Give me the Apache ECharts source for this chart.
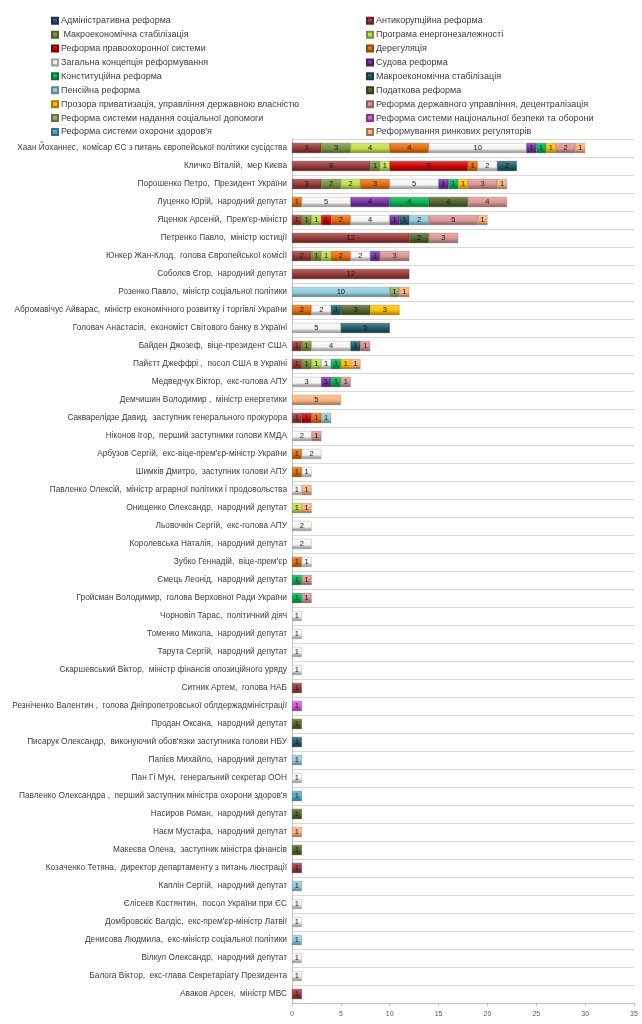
<!DOCTYPE html>
<html>
<head>
<meta charset="utf-8">
<script src="https://cdn.jsdelivr.net/npm/echarts@6/dist/echarts.min.js"></script>
<style>
html,body{margin:0;padding:0;background:#fff;}
#c{width:642px;height:1024px;}
</style>
</head>
<body>
<div id="c"></div>
<script>
const categories = [
"Хаан Йоханнес,  комісар ЄС з питань європейської політики сусідства",
"Кличко Віталій,  мер Києва",
"Порошенко Петро,  Президент України",
"Луценко Юрій,  народний депутат",
"Яценюк Арсеній,  Прем'єр-міністр",
"Петренко Павло,  міністр юстиції",
"Юнкер Жан-Клод,  голова Європейської комісії",
"Соболєв Єгор,  народний депутат",
"Розенко Павло,  міністр соціальної політики",
"Абромавічус Айварас,  міністр економічного розвитку і торгівлі України",
"Головач Анастасія,  економіст Світового банку в Україні",
"Байден Джозеф,  віце-президент США",
"Пайєтт Джеффрі ,  посол США в Україні",
"Медведчук Віктор,  екс-голова АПУ",
"Демчишин Володимир ,  міністр енергетики",
"Сакварелідзе Давид,  заступник генерального прокурора",
"Ніконов Ігор,  перший заступники голови КМДА",
"Арбузов Сергій,  екс-віце-прем'єр-міністр України",
"Шимків Дмитро,  заступник голови АПУ",
"Павленко Олексій,  міністр аграрної політики і продовольства",
"Онищенко Олександр,  народний депутат",
"Льовочкін Сергій,  екс-голова АПУ",
"Королевська Наталія,  народний депутат",
"Зубко Геннадій,  віце-прем'єр",
"Ємець Леонід,  народний депутат",
"Гройсман Володимир,  голова Верховної Ради України",
"Чорновіл Тарас,  політичний діяч",
"Томенко Микола,  народний депутат",
"Тарута Сергій,  народний депутат",
"Скаршевський Віктор,  міністр фінансів опозиційного уряду",
"Ситник Артем,  голова НАБ",
"Резніченко Валентин ,  голова Дніпропетровської облдержадміністрації",
"Продан Оксана,  народний депутат",
"Писарук Олександр,  виконуючий обов'язки заступника голови НБУ",
"Папієв Михайло,  народний депутат",
"Пан Гі Мун,  генеральний секретар ООН",
"Павленко Олександра ,  перший заступник міністра охорони здоров'я",
"Насиров Роман,  народний депутат",
"Наєм Мустафа,  народний депутат",
"Макеєва Олена,  заступник міністра фінансів",
"Козаченко Тетяна,  директор департаменту з питань люстрації",
"Каплін Сергій,  народний депутат",
"Єлісеєв Костянтин,  посол України при ЄС",
"Домбровскіс Валдіс,  екс-прем'єр-міністр Латвії",
"Денисова Людмила,  екс-міністр соціальної політики",
"Вілкул Олександр,  народний депутат",
"Балога Віктор,  екс-глава Секретаріату Президента",
"Аваков Арсен,  міністр МВС"
];

const seriesNames = [
"Адміністративна реформа",
"Антикорупційна реформа",
" Макроекономічна стабілізація",
"Програма енергонезалежності",
"Реформа правоохоронної системи",
"Дерегуляція",
"Загальна концепція реформування",
"Судова реформа",
"Конституційна реформа",
"Макроекономічна стабілізація",
"Пенсійна реформа",
"Податкова реформа",
"Прозора приватизація, управління державною власністю",
"Реформа державного управління, децентралізація",
"Реформа системи надання соціальної допомоги",
"Реформа системи національної безпеки та оборони",
"Реформа системи охорони здоров'я",
"Реформування ринкових регуляторів"
];

const vAdmin      = [0,0,0,0,0,0,0,0,0,0, 0,0,0,0,0,0,0,0,0,0, 0,0,0,0,0,0,0,0,0,0, 0,0,0,0,0,0,0,0,0,0, 0,0,0,0,0,0,0,0];
const vAntikor    = [3,8,3,0,1,12,2,12,0,0, 0,1,1,0,0,1,0,0,0,0, 0,0,0,0,0,0,0,0,0,0, 1,0,0,0,0,0,0,0,0,0, 1,0,0,0,0,0,0,1];
const vMacroOlive = [3,1,2,0,1,0,1,0,0,0, 0,1,1,0,0,0,0,0,0,0, 0,0,0,0,0,0,0,0,0,0, 0,0,0,0,0,0,0,0,0,0, 0,0,0,0,0,0,0,0];
const vEnergy     = [4,1,2,0,1,0,1,0,0,0, 0,0,1,0,0,0,0,0,0,0, 1,0,0,0,0,0,0,0,0,0, 0,0,0,0,0,0,0,0,0,0, 0,0,0,0,0,0,0,0];
const vLaw        = [0,8,0,0,1,0,0,0,0,0, 0,0,0,0,0,1,0,0,0,0, 0,0,0,0,0,0,0,0,0,0, 0,0,0,0,0,0,0,0,0,0, 0,0,0,0,0,0,0,0];
const vDereg      = [4,1,3,1,2,0,2,0,0,2, 0,0,0,0,0,1,0,1,1,0, 0,0,0,1,0,0,0,0,0,0, 0,0,0,0,0,0,0,0,0,0, 0,0,0,0,0,0,0,0];
const vGeneral    = [10,2,5,5,4,0,2,0,0,2, 5,4,1,3,0,0,2,2,1,1, 0,2,2,1,0,0,1,1,1,1, 0,0,0,0,0,1,0,0,0,0, 0,0,1,1,0,1,1,0];
const vJudicial   = [1,0,1,4,1,0,1,0,0,0, 0,0,0,1,0,0,0,0,0,0, 0,0,0,0,0,0,0,0,0,0, 0,0,0,0,0,0,0,0,0,0, 0,0,0,0,0,0,0,0];
const vConstit    = [1,0,1,4,0,0,0,0,0,0, 0,0,1,1,0,0,0,0,0,0, 0,0,0,0,1,1,0,0,0,0, 0,0,0,0,0,0,0,0,0,0, 0,0,0,0,0,0,0,0];
const vMacroTeal  = [0,2,0,0,1,0,0,0,0,1, 5,1,0,0,0,0,0,0,0,0, 0,0,0,0,0,0,0,0,0,0, 0,0,0,1,0,0,0,0,0,0, 0,0,0,0,0,0,0,0];
const vPension    = [0,0,0,0,2,0,0,0,10,0, 0,0,0,0,0,1,0,0,0,0, 0,0,0,0,0,0,0,0,0,0, 0,0,0,0,1,0,0,0,0,0, 0,1,0,0,1,0,0,0];
const vTax        = [0,0,0,4,0,2,0,0,0,3, 0,0,0,0,0,0,0,0,0,0, 0,0,0,0,0,0,0,0,0,0, 0,0,1,0,0,0,0,1,0,1, 0,0,0,0,0,0,0,0];
const vPrivat     = [1,0,1,0,0,0,0,0,0,3, 0,0,1,0,0,0,0,0,0,0, 0,0,0,0,0,0,0,0,0,0, 0,0,0,0,0,0,0,0,0,0, 0,0,0,0,0,0,0,0];
const vStateAdmin = [2,0,3,4,5,3,3,0,0,0, 0,1,0,1,0,0,1,0,0,0, 0,0,0,0,1,1,0,0,0,0, 0,0,0,0,0,0,0,0,0,0, 0,0,0,0,0,0,0,0];
const vSocial     = [0,0,0,0,0,0,0,0,1,0, 0,0,0,0,0,0,0,0,0,0, 0,0,0,0,0,0,0,0,0,0, 0,0,0,0,0,0,0,0,0,0, 0,0,0,0,0,0,0,0];
const vSecurity   = [0,0,0,0,0,0,0,0,0,0, 0,0,0,0,0,0,0,0,0,0, 0,0,0,0,0,0,0,0,0,0, 0,1,0,0,0,0,0,0,0,0, 0,0,0,0,0,0,0,0];
const vHealth     = [0,0,0,0,0,0,0,0,0,0, 0,0,0,0,0,0,0,0,0,0, 0,0,0,0,0,0,0,0,0,0, 0,0,0,0,0,0,1,0,0,0, 0,0,0,0,0,0,0,0];
const vMarket     = [1,0,1,0,1,0,0,0,1,0, 0,0,1,0,5,0,0,0,0,1, 1,0,0,0,0,0,0,0,0,0, 0,0,0,0,0,0,0,0,1,0, 0,0,0,0,0,0,0,0];

const seriesValues = [vAdmin, vAntikor, vMacroOlive, vEnergy, vLaw, vDereg, vGeneral, vJudicial, vConstit,
  vMacroTeal, vPension, vTax, vPrivat, vStateAdmin, vSocial, vSecurity, vHealth, vMarket];

const xTicks = { min: 0, max: 35, interval: 5 };

const colors = ["#2C4D75","#953735","#77933C","#C3DE4E","#CC0000","#E46C0A","#F4F4F0","#7030A0","#00B050",
  "#215968","#93CDDD","#4F6228","#FFC000","#D99694","#98A86E","#DA4FDA","#4BACC6","#F8B380"];

function shade(hex, f) {
  let r = parseInt(hex.slice(1,3),16), g = parseInt(hex.slice(3,5),16), b = parseInt(hex.slice(5,7),16);
  if (f >= 0) { r += (255-r)*f; g += (255-g)*f; b += (255-b)*f; }
  else { r *= 1+f; g *= 1+f; b *= 1+f; }
  return 'rgb(' + Math.round(r) + ',' + Math.round(g) + ',' + Math.round(b) + ')';
}
function fillFor(i) {
  const c = colors[i];
  if (i === 6) {
    return new echarts.graphic.LinearGradient(0,0,0,1,[
      {offset:0,color:'#FFFFFF'},{offset:0.6,color:'#F2F2EE'},{offset:0.75,color:'#BFBFBF'},{offset:1,color:'#8C8C8C'}]);
  }
  return new echarts.graphic.LinearGradient(0,0,0,1,[
    {offset:0,color:shade(c,0.25)},{offset:0.55,color:c},{offset:0.8,color:shade(c,-0.2)},{offset:1,color:shade(c,-0.45)}]);
}

const series = seriesNames.map((name, i) => ({
  name: name,
  type: 'bar',
  stack: 'total',
  barWidth: 10,
  data: seriesValues[i].map(v => v === 0 ? null : v),
  itemStyle: { color: fillFor(i), borderColor: shade(colors[i], -0.35), borderWidth: 0.4 },
  label: { show: true, position: 'inside', fontSize: 7.5, color: '#1a1a1a', fontFamily: 'Liberation Sans' },
  emphasis: { disabled: true }
}));

const leftNames = [0,2,4,6,8,10,12,14,16].map(i => seriesNames[i]);
const rightNames = [1,3,5,7,9,11,13,15,17].map(i => seriesNames[i]);

const legendCommon = {
  orient: 'vertical',
  top: 10,
  icon: 'rect',
  itemWidth: 6,
  itemHeight: 6,
  itemGap: 2.4,
  selectedMode: false,
  textStyle: { fontSize: 9, color: '#404040', fontFamily: 'Liberation Sans', lineHeight: 11.5, padding: [0,0,0,-2] }
};

const chart = echarts.init(document.getElementById('c'), null, { renderer: 'canvas' });
chart.setOption({
  animation: false,
  color: colors,
  legend: [
    Object.assign({}, legendCommon, { left: 46, data: leftNames }),
    Object.assign({}, legendCommon, { left: 361, data: rightNames })
  ],
  grid: { left: 292, right: 8, top: 139, bottom: 21, containLabel: false },
  xAxis: {
    type: 'value',
    min: xTicks.min, max: xTicks.max, interval: xTicks.interval,
    splitLine: { show: false },
    axisLine: { show: true, lineStyle: { color: '#BFBFBF' } },
    axisTick: { show: true, length: 3, lineStyle: { color: '#BFBFBF' } },
    axisLabel: { fontSize: 7, color: '#595959', fontFamily: 'Liberation Sans', margin: 8 }
  },
  yAxis: {
    type: 'category',
    inverse: true,
    data: categories,
    axisLine: { show: true, lineStyle: { color: '#BFBFBF' } },
    axisTick: { show: false },
    splitLine: { show: true, lineStyle: { color: '#D9D9D9', width: 1 } },
    axisLabel: { fontSize: 8.3, color: '#404040', fontFamily: 'Liberation Sans', margin: 5, interval: 0 }
  },
  series: series
});
</script>
</body>
</html>
